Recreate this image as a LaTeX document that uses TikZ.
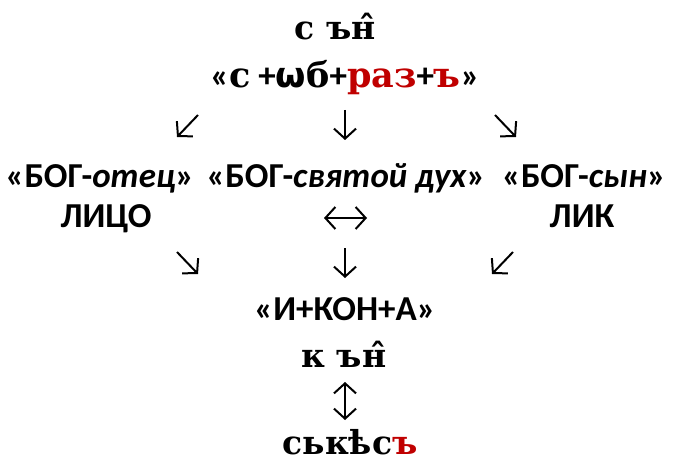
\documentclass[tikz,border=0pt]{standalone}
\usepackage{fontspec}
\setmainfont{Carlito}
\newfontfamily\slavfont{DejaVu Serif}
\newfontfamily\omegafont{DejaVu Sans}
\usetikzlibrary{arrows.meta}
\definecolor{slavred}{RGB}{192,0,0}
\newcommand\smit[1]{{\itshape #1}}

\begin{document}
\begin{tikzpicture}
[x=1pt,y=-1pt,
 txt/.style={font=\bfseries\fontsize{35}{40}\selectfont,inner sep=0pt,anchor=base},
 old/.style={font=\slavfont\bfseries\fontsize{33}{38}\selectfont,inner sep=0pt,anchor=base},
 arr/.style={line width=2pt,-{Straight Barb[length=10pt,width=22pt]}},
 darr/.style={line width=2pt,{Straight Barb[length=10pt,width=22pt]}-{Straight Barb[length=10pt,width=22pt]}}]

\useasboundingbox (0,0) rectangle (674,465);

\node (son) at (335,40) [old] {с ън̂};
\node (formula) at (345,88) [txt] {«{\slavfont с} +{\omegafont ѡ}{\slavfont б}+{\slavfont\color{slavred}раз}+{\slavfont\color{slavred}ъ}»};

\node (father) at (100,187) [txt] {«БОГ-\smit{отец}»};
\node (spirit) at (346,187) [txt] {«БОГ-\smit{святой дух}»};
\node (sonp) at (584,187) [txt] {«БОГ-\smit{сын}»};

\node (lico) at (106,227) [txt] {ЛИЦО};
\node (lik) at (582,227) [txt] {ЛИК};

\node (icona) at (345,320) [txt] {«И+КОН+А»};
\node (kon) at (344,367) [old] {к ън̂};
\node (skvs) at (350,454) [old] {ськѣс{\color{slavred}ъ}};

% arrow ends
\foreach \n/\x/\y in {a1/198/115, b1/177/137, a2/345/110, b2/345/140, a3/495/115, b3/516/137,
                      a4/177/252, b4/198/274, a5/345/248, b5/345/278, a6/513/252, b6/492/274,
                      a7/324/218, b7/367/218, a8/345/382, b8/345/420}
	\coordinate (\n) at (\x,\y);

\foreach \from/\to in {a1/b1, a2/b2, a3/b3, a4/b4, a5/b5, a6/b6}
	\draw[arr] (\from) -- (\to);

\foreach \from/\to in {a7/b7, a8/b8}
	\draw[darr] (\from) -- (\to);

\end{tikzpicture}
\end{document}
